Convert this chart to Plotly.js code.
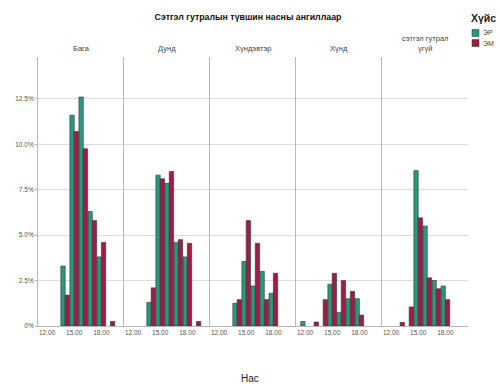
<!DOCTYPE html>
<html>
<head>
<meta charset="utf-8">
<script src="https://cdn.plot.ly/plotly-3.0.1.min.js"></script>
<style>html,body{margin:0;padding:0;background:#fff;}#chart{width:500px;height:384px;}</style>
</head>
<body>
<div id="chart"></div>
<script>
// Ages (x categories)
const ages = [12, 13, 14, 15, 16, 17, 18, 19];
// Panel (depression level) labels
const panels = ["Бага", "Дунд", "Хүндэвтэр", "Хүнд", "сэтгэл гутрал<br>үгүй"];
// Series names (gender)
const seriesNames = ["ЭР", "ЭМ"];
// Percent values per panel, aligned with ages; null = no bar
const bagaEr   = [null, null, 3.3, 11.6, 12.6, 6.3, 3.8, null];
const bagaEm   = [null, null, 1.7, 10.7, 9.75, 5.8, 4.6, 0.25];
const dundEr   = [null, null, 1.3, 8.3, 7.85, 4.6, 3.8, null];
const dundEm   = [null, null, 2.1, 8.1, 8.5, 4.75, 4.55, 0.25];
const khundevterEr = [null, null, 1.25, 3.55, 2.2, 3.0, 1.8, null];
const khundevterEm = [null, null, 1.45, 5.8, 4.55, 1.45, 2.9, null];
const khundEr  = [0.25, null, null, 2.3, 0.75, 1.5, 1.5, null];
const khundEm  = [null, 0.22, 1.45, 2.9, 2.5, 1.9, 0.6, null];
const ugueiEr  = [null, null, null, 8.55, 5.5, 2.5, 2.2, null];
const ugueiEm  = [null, 0.2, 1.05, 5.95, 2.65, 2.05, 1.45, null];
// Axis ticks
const yTickVals = [0, 2.5, 5, 7.5, 10, 12.5];
const yTickText = ["0%", "2.5%", "5.0%", "7.5%", "10.0%", "12.5%"];
const xTickVals = [12, 15, 18];
const xTickText = ["12.00", "15.00", "18.00"];

const panelData = [[bagaEr, bagaEm], [dundEr, dundEm], [khundevterEr, khundevterEm], [khundEr, khundEm], [ugueiEr, ugueiEm]];
const colors = ["#2a9a7e", "#a01c46"];
const FONT = "Liberation Sans, Arial, sans-serif";

const traces = [];
panelData.forEach((pair, i) => {
  const sfx = i === 0 ? "" : String(i + 1);
  pair.forEach((vals, s) => {
    traces.push({
      type: "bar", x: ages, y: vals, name: seriesNames[s],
      xaxis: "x" + sfx, yaxis: "y" + sfx,
      marker: {color: colors[s], line: {color: "#303030", width: 0.6}},
      showlegend: false, hoverinfo: "skip"
    });
  });
});

const W = 500, H = 384, L = 38, R = 32, T = 57, B = 58;
const pw = W - L - R, ph = H - T - B;
const px = v => (v - L) / pw;
const py = v => (H - B - v) / ph;

const layout = {
  width: W, height: H,
  margin: {l: L, r: R, t: T, b: B, pad: 0},
  paper_bgcolor: "#fff", plot_bgcolor: "#fff",
  barmode: "group", bargap: 0.04, bargroupgap: 0,
  font: {family: FONT, color: "#444", size: 7},
  title: {text: "<b>Сэтгэл гутралын түвшин насны ангиллаар</b>", font: {size: 8.8, color: "#111", family: FONT},
          x: 0.496, xref: "container", y: 1 - 17 / H, yref: "container", yanchor: "middle"},
  showlegend: false,
  annotations: [],
  shapes: []
};

for (let i = 0; i < 5; i++) {
  const sfx = i === 0 ? "" : String(i + 1);
  layout["xaxis" + sfx] = {
    domain: [i / 5, (i + 1) / 5], anchor: "y" + sfx,
    range: [11, 20.5], tickvals: xTickVals, ticktext: xTickText,
    tickfont: {size: 6.5, color: "#555"}, showgrid: false, zeroline: false,
    showline: true, linecolor: "#b8b8b8", linewidth: 1, ticks: "", fixedrange: true
  };
  layout["yaxis" + sfx] = {
    anchor: "x" + sfx, range: [0, 14.8], tickvals: yTickVals, ticktext: yTickText,
    showticklabels: i === 0, tickfont: {size: 6.5, color: "#555"},
    showgrid: true, gridcolor: "#dcdcdc", gridwidth: 1, zeroline: false,
    showline: true, linecolor: "#b8b8b8", linewidth: 1,
    ticks: i === 0 ? "outside" : "", ticklen: 2, tickcolor: "#b8b8b8"
  };
  if (i > 0) layout["yaxis" + sfx].matches = "y";
  layout.annotations.push({
    text: panels[i], xref: "x" + sfx + " domain", x: 0.5, yref: "paper",
    y: i === 4 ? py(43) : py(48), yanchor: "middle", showarrow: false,
    font: {size: 7.5, color: "#444", family: FONT}
  });
}

// x-axis title
layout.annotations.push({text: "Нас", xref: "paper", x: px(250), yref: "paper", y: py(378),
  yanchor: "middle", showarrow: false, font: {size: 10, color: "#222", family: FONT}});

// Legend (manual)
layout.annotations.push({text: "<b>Хүйс</b>", xref: "paper", x: px(469), xanchor: "left", yref: "paper", y: py(18),
  yanchor: "middle", showarrow: false, font: {size: 10.5, color: "#222", family: FONT}});
seriesNames.forEach((n, s) => {
  const yc = 33 + s * 10;
  layout.shapes.push({type: "rect", xref: "paper", yref: "paper", x0: px(472), x1: px(479), y0: py(yc - 3.5), y1: py(yc + 3.5),
    fillcolor: colors[s], line: {color: "#303030", width: 0.5}});
  layout.annotations.push({text: n, xref: "paper", x: px(481), xanchor: "left", yref: "paper", y: py(yc),
    yanchor: "middle", showarrow: false, font: {size: 7, color: "#444", family: FONT}});
});

Plotly.newPlot("chart", traces, layout, {staticPlot: true, displayModeBar: false});
</script>
</body>
</html>
